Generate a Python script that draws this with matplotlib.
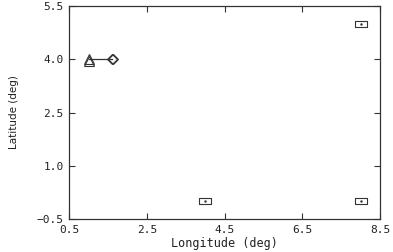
import numpy as np
import matplotlib.pyplot as plt
from matplotlib.path import Path

# Data
track_lon = [1.0, 1.6]
track_lat = [4.0, 4.0]
tri_lon = [1.0, 1.02]
tri_lat = [4.0, 3.96]
dia_lon = [1.6, 1.62]
dia_lat = [4.0, 4.0]
box_lon = [8.0, 4.0, 8.0]
box_lat = [5.0, 0.0, 0.0]

xticks = [0.5, 2.5, 4.5, 6.5, 8.5]
yticks = [-0.5, 1.0, 2.5, 4.0, 5.5]

ink = '#333333'
rect = Path([(-1, -0.55), (1, -0.55), (1, 0.55), (-1, 0.55), (-1, -0.55)],
            [Path.MOVETO, Path.LINETO, Path.LINETO, Path.LINETO, Path.CLOSEPOLY])

fig = plt.figure(figsize=(3.93, 2.52), dpi=100)
ax = fig.add_axes([0.176, 0.131, 0.791, 0.845])

ax.plot(track_lon, track_lat, '-', color=ink, lw=0.9)
ax.plot(tri_lon, tri_lat, '^', mfc='none', mec=ink, ms=7, mew=0.8, ls='none')
ax.plot(dia_lon, dia_lat, 'D', mfc='none', mec=ink, ms=5, mew=0.8, ls='none')
ax.plot(box_lon, box_lat, marker=rect, mfc='none', mec=ink, ms=8, mew=0.8, ls='none')
ax.plot(box_lon, box_lat, '.', color=ink, ms=1.5, ls='none')

ax.set_xlim(0.5, 8.5)
ax.set_ylim(-0.5, 5.5)
ax.set_xticks(xticks)
ax.set_yticks(yticks)
ax.set_xticklabels(['%.1f' % v for v in xticks], family='DejaVu Sans Mono', fontsize=8)
ax.set_yticklabels(['%.1f' % v if v >= 0 else '\u22120.5' for v in yticks],
                   family='DejaVu Sans Mono', fontsize=8)
ax.tick_params(direction='in', length=4, width=0.8, colors=ink, labelcolor='#222222',
               top=True, right=True, pad=4)
for s in ax.spines.values():
    s.set_color(ink)
    s.set_linewidth(0.9)

ax.set_xlabel('Longitude (deg)', family='DejaVu Sans Mono', fontsize=8.5, color='#222222', labelpad=2)
ax.set_ylabel('Latitude (deg)', family='DejaVu Sans', fontsize=7.5, color='#222222', labelpad=13)

fig.savefig('out.png', dpi=100)
